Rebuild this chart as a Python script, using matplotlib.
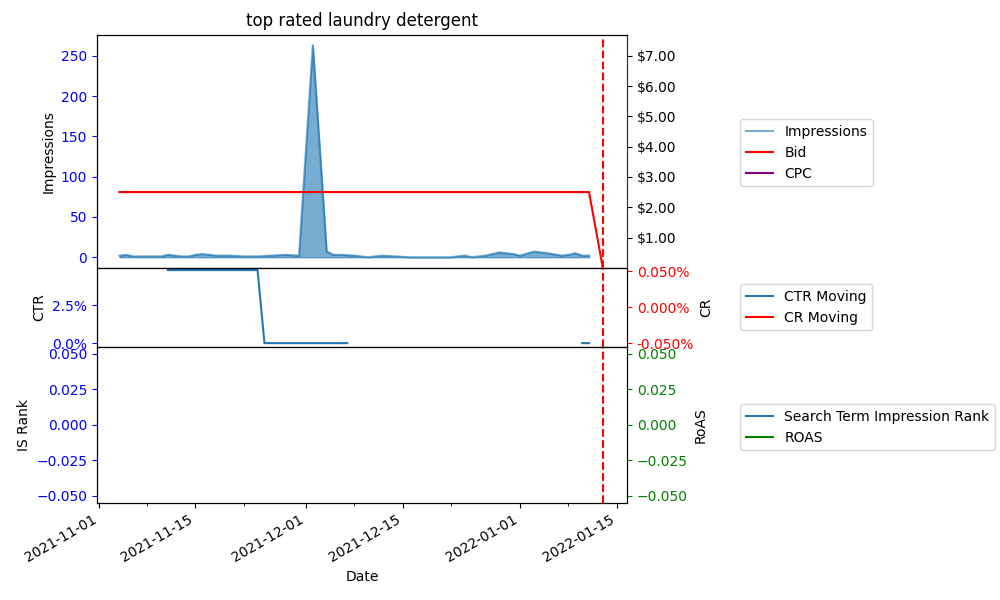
import matplotlib
matplotlib.use("Agg")
import matplotlib.pyplot as plt
import matplotlib.dates as mdates
import matplotlib.ticker as mtick
import numpy as np
import pandas as pd

imp_dates = pd.to_datetime([
 "2021-11-04","2021-11-05","2021-11-06","2021-11-07","2021-11-08","2021-11-09","2021-11-10","2021-11-11","2021-11-12","2021-11-13",
 "2021-11-14","2021-11-15","2021-11-16","2021-11-17","2021-11-18","2021-11-20","2021-11-22","2021-11-24","2021-11-26","2021-11-28",
 "2021-11-30","2021-12-02","2021-12-04","2021-12-05","2021-12-06","2021-12-08","2021-12-10","2021-12-12","2021-12-14","2021-12-16",
 "2021-12-18","2021-12-20","2021-12-22","2021-12-24","2021-12-25","2021-12-27","2021-12-29","2021-12-31","2022-01-01","2022-01-03",
 "2022-01-05","2022-01-07","2022-01-08","2022-01-09","2022-01-10","2022-01-11"])
impressions = [2,3,1,1,1,1,1,3,2,1,1,3,4,3,2,2,1,1,2,3,
               2,263,7,3,3,2,0,2,1,0,
               0,0,0,2,0,2,6,4,2,7,
               5,2,3,5,2,2]
bid_dates = pd.to_datetime(["2021-11-04","2022-01-11","2022-01-13"])
bid = [2.5,2.5,0.0]
ctr_dates = pd.to_datetime(["2021-11-11","2021-11-24","2021-11-25","2021-12-07","2021-12-08","2022-01-10","2022-01-11"])
ctr = [0.048,0.048,0.0,0.0,np.nan,0.0,0.0]
cutoff = pd.Timestamp("2022-01-13")

fig = plt.figure(figsize=(10,6), dpi=100)
gs = fig.add_gridspec(3,1,height_ratios=[233,79,156],hspace=0,left=0.097,right=0.627,top=0.942,bottom=0.162)
ax1 = fig.add_subplot(gs[0]); ax2 = fig.add_subplot(gs[1],sharex=ax1); ax3 = fig.add_subplot(gs[2],sharex=ax1)

ax1.fill_between(imp_dates, impressions, alpha=0.6, color="C0")
l1, = ax1.plot(imp_dates, impressions, color="C0", alpha=0.6, label="Impressions")
ax1.set_ylabel("Impressions"); ax1.tick_params(axis="y", colors="blue")
ax1.set_title("top rated laundry detergent")
ax1r = ax1.twinx()
l2, = ax1r.plot(bid_dates, bid, color="red", label="Bid")
l3, = ax1r.plot([], [], color="purple", label="CPC")
ax1r.set_ylim(0.0,7.69)
ax1r.set_yticks([1,2,3,4,5,6,7])
ax1r.yaxis.set_major_formatter(mtick.FormatStrFormatter("$%.2f"))
ax1r.spines["right"].set_color("purple")
fig.legend(handles=[l1,l2,l3], loc="upper left", bbox_to_anchor=(0.733,0.813))

l4, = ax2.plot(ctr_dates, ctr, color="C0", label="CTR Moving")
ax2.set_ylabel("CTR")
ax2.set_ylim(-0.0024, 0.0495)
ax2.yaxis.set_major_formatter(mtick.PercentFormatter(1.0, decimals=1))
ax2.set_yticks([0,0.025])
ax2.tick_params(axis="y", colors="blue")
ax2r = ax2.twinx()
l5, = ax2r.plot([], [], color="red", label="CR Moving")
ax2r.set_ylim(-0.055,0.055)
ax2r.set_yticks([-0.05,0,0.05])
ax2r.yaxis.set_major_formatter(mtick.FormatStrFormatter("%.3f%%"))
ax2r.tick_params(axis="y", colors="red")
ax2r.set_ylabel("CR")
fig.legend(handles=[l4,l5], loc="upper left", bbox_to_anchor=(0.733,0.538))

l6, = ax3.plot([], [], color="C0", label="Search Term Impression Rank")
ax3.set_ylim(-0.055,0.055)
ax3.set_ylabel("IS Rank"); ax3.tick_params(axis="y", colors="blue")
ax3r = ax3.twinx()
l7, = ax3r.plot([], [], color="green", label="ROAS")
ax3r.set_ylim(-0.055,0.055)
ax3r.tick_params(axis="y", colors="green")
ax3r.set_ylabel("RoAS")
fig.legend(handles=[l6,l7], loc="upper left", bbox_to_anchor=(0.733,0.338))

for a in (ax1,ax2,ax3):
    a.axvline(cutoff, color="red", linestyle="--")
ax3.set_xlim(pd.Timestamp("2021-10-31 18:00"), pd.Timestamp("2022-01-16 12:00"))
ax3.xaxis.set_major_locator(mdates.DayLocator(bymonthday=[1,15]))
ax3.xaxis.set_minor_locator(mdates.DayLocator(bymonthday=[8,22]))
ax3.xaxis.set_major_formatter(mdates.DateFormatter("%Y-%m-%d"))
ax3.set_xlabel("Date")
plt.setp(ax1.get_xticklabels(), visible=False)
plt.setp(ax2.get_xticklabels(), visible=False)
for lab in ax3.get_xticklabels():
    lab.set_rotation(30); lab.set_ha("right")
fig.savefig("out.png")
